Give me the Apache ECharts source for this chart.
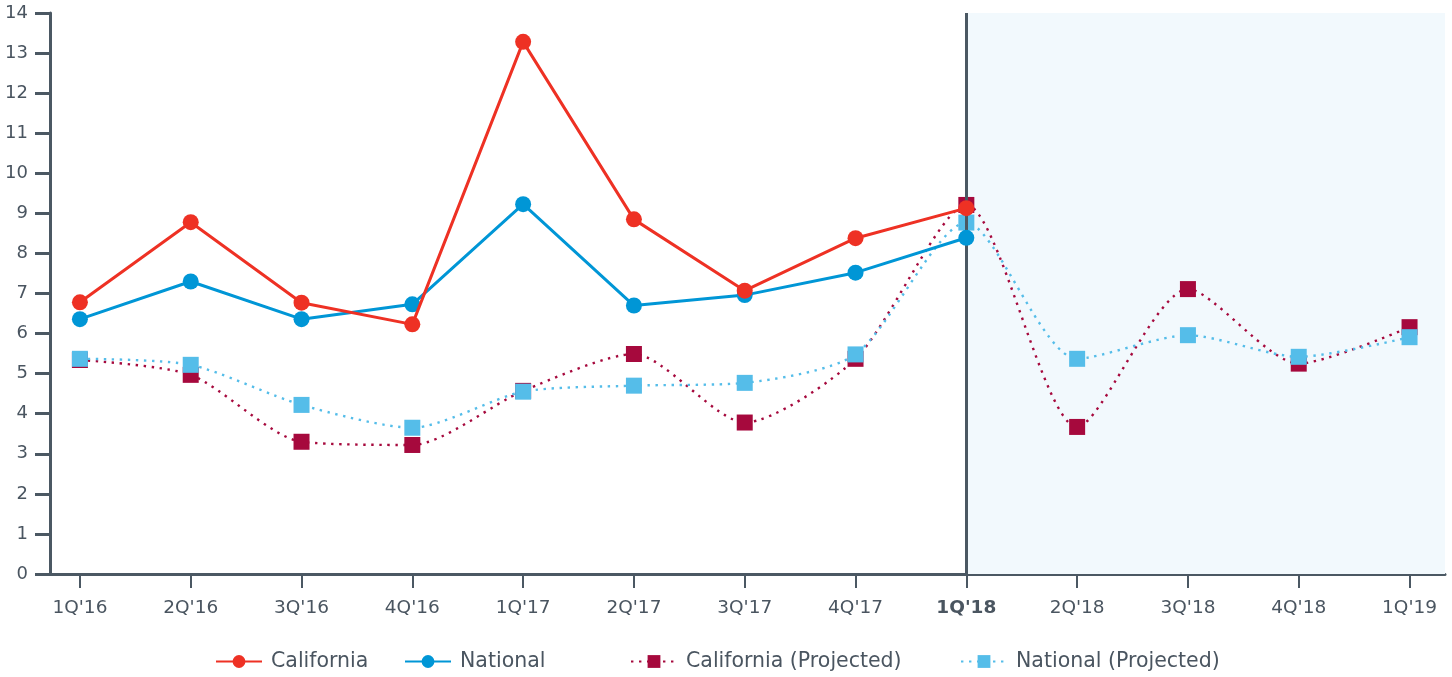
<!DOCTYPE html>
<html>
<head>
<meta charset="utf-8">
<script src="https://cdn.jsdelivr.net/npm/echarts@6/dist/echarts.min.js"></script>
<style>html,body{margin:0;padding:0;background:#fff;}#c{width:1452px;height:677px;}</style>
</head>
<body>
<div id="c"></div>
<script>
const categories = ["1Q'16","2Q'16","3Q'16","4Q'16","1Q'17","2Q'17","3Q'17","4Q'17","1Q'18","2Q'18","3Q'18","4Q'18","1Q'19"];
const california = [6.78, 8.78, 6.77, 6.23, 13.28, 8.85, 7.07, 8.38, 9.13];
const national = [6.36, 7.30, 6.36, 6.73, 9.23, 6.70, 6.96, 7.52, 8.39];
const californiaProjected = [5.34, 4.97, 3.30, 3.22, 4.57, 5.49, 3.78, 5.37, 9.21, 3.67, 7.11, 5.25, 6.16];
const nationalProjected = [5.37, 5.22, 4.22, 3.65, 4.55, 4.70, 4.77, 5.48, 8.77, 5.37, 5.96, 5.42, 5.91];
const yTicks = [0,1,2,3,4,5,6,7,8,9,10,11,12,13,14];
const highlightCategory = "1Q'18";

const toPairs = arr => arr.map((v, i) => [i, v]);
const idx = categories.map((_, i) => i);
const hlIndex = categories.indexOf(highlightCategory);

const axisColor = '#4b5863';
const textColor = '#4a5560';
const font = 'DejaVu Sans';

const chart = echarts.init(document.getElementById('c'));
const legendCommon = {
  bottom: 0, itemWidth: 46, itemHeight: 16, itemGap: 0,
  textStyle: {color: textColor, fontSize: 20.5, fontFamily: font, padding: [0,0,0,4]}
};
chart.setOption({
  animation: false,
  grid: {left: 50, right: 7, top: 13, bottom: 103, containLabel: false},
  legend: [
    Object.assign({}, legendCommon, {left: 210, data: ['California']}),
    Object.assign({}, legendCommon, {left: 399, data: ['National']}),
    Object.assign({}, legendCommon, {left: 625, data: ['California (Projected)']}),
    Object.assign({}, legendCommon, {left: 955, data: ['National (Projected)']})
  ],
  xAxis: {
    type: 'value', min: -0.27, max: 12.32,
    splitLine: {show: false},
    axisLine: {show: true, onZero: false, lineStyle: {color: axisColor, width: 3}},
    axisTick: {show: true, customValues: idx, length: 14, lineStyle: {color: axisColor, width: 2}},
    axisLabel: {
      customValues: idx, margin: 25,
      color: textColor, fontSize: 18.5, fontFamily: font,
      formatter: v => v === hlIndex ? '{b|' + categories[v] + '}' : categories[v],
      rich: {b: {fontWeight: 'bold', color: textColor, fontSize: 18.5, fontFamily: font}}
    }
  },
  yAxis: {
    type: 'value', min: 0, max: 14, interval: 1,
    splitLine: {show: false},
    axisLine: {show: true, onZero: false, lineStyle: {color: axisColor, width: 3}},
    axisTick: {show: true, length: 15, lineStyle: {color: axisColor, width: 3}},
    axisLabel: {
      margin: 22, color: textColor, fontSize: 18, fontFamily: font,
      customValues: yTicks
    }
  },
  series: [
    {
      name: 'California (Projected)', type: 'line', data: toPairs(californiaProjected),
      smooth: 0.25, symbol: 'rect', symbolSize: 16, z: 3,
      itemStyle: {color: '#a6093d'},
      lineStyle: {color: '#a6093d', width: 2.4, type: [2.4, 5.6], cap: 'butt'},
      markArea: {
        silent: true,
        itemStyle: {color: '#f2f9fd'},
        data: [[{xAxis: hlIndex, yAxis: 0}, {xAxis: 12.32, yAxis: 14.06}]]
      }
    },
    {
      name: 'National (Projected)', type: 'line', data: toPairs(nationalProjected),
      smooth: 0.25, symbol: 'rect', symbolSize: 16, z: 4,
      itemStyle: {color: '#55bde9'},
      lineStyle: {color: '#55bde9', width: 2.4, type: [2.4, 5.6], cap: 'butt'},
      markLine: {
        silent: true, symbol: ['none', 'none'],
        label: {show: false},
        lineStyle: {color: axisColor, width: 3, type: 'solid'},
        data: [{xAxis: hlIndex}]
      }
    },
    {
      name: 'National', type: 'line', data: toPairs(national),
      symbol: 'circle', symbolSize: 16, z: 5,
      itemStyle: {color: '#0096d6'},
      lineStyle: {color: '#0096d6', width: 3}
    },
    {
      name: 'California', type: 'line', data: toPairs(california),
      symbol: 'circle', symbolSize: 16, z: 6,
      itemStyle: {color: '#ee3124'},
      lineStyle: {color: '#ee3124', width: 3}
    }
  ]
});
</script>
</body>
</html>
